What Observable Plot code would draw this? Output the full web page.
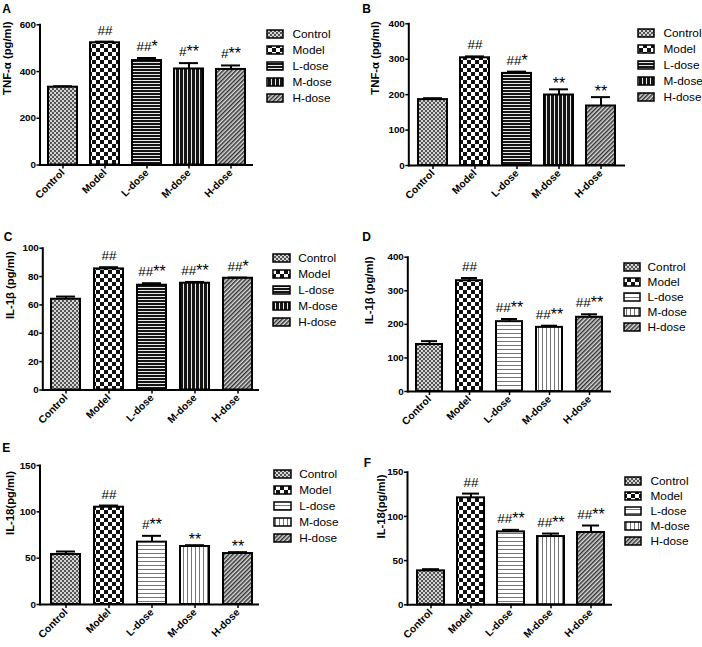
<!DOCTYPE html>
<html><head><meta charset="utf-8">
<script src="https://cdn.jsdelivr.net/npm/d3@7"></script>
<script src="https://cdn.jsdelivr.net/npm/@observablehq/plot@0.6"></script>
<style>
body{margin:0;background:#fff;}
#fig{position:relative;width:702px;height:647px;overflow:hidden;font-family:"Liberation Sans",Arial,sans-serif;background:#fff;}
#fig svg{position:absolute;}
</style></head><body>
<svg width="0" height="0" style="position:absolute">
<defs>
<pattern id="pCtrl" patternUnits="userSpaceOnUse" width="4" height="4"><rect width="4" height="4" fill="#d4d4d4"/><rect width="2" height="2" fill="#555"/><rect x="2" y="2" width="2" height="2" fill="#555"/></pattern>
<pattern id="pModel" patternUnits="userSpaceOnUse" width="8" height="8"><rect width="8" height="8" fill="#fff"/><rect width="4" height="4" fill="#111"/><rect x="4" y="4" width="4" height="4" fill="#111"/></pattern>
<pattern id="pLdark" patternUnits="userSpaceOnUse" width="4" height="3"><rect width="4" height="3" fill="#151515"/><rect y="2" width="4" height="1" fill="#e8e8e8"/></pattern>
<pattern id="pMdark" patternUnits="userSpaceOnUse" width="4" height="4"><rect width="4" height="4" fill="#151515"/><rect x="3" width="1" height="4" fill="#e8e8e8"/></pattern>
<pattern id="pLlight" patternUnits="userSpaceOnUse" width="4" height="4"><rect width="4" height="4" fill="#fff"/><rect y="3" width="4" height="1" fill="#777"/></pattern>
<pattern id="pMlight" patternUnits="userSpaceOnUse" width="4" height="4"><rect width="4" height="4" fill="#fff"/><rect x="3" width="1" height="4" fill="#777"/></pattern>
<pattern id="pH" patternUnits="userSpaceOnUse" width="3" height="3" patternTransform="rotate(45)"><rect width="3" height="3" fill="#dcdcdc"/><rect width="1.5" height="3" fill="#333"/></pattern>
</defs></svg>
<div id="fig"></div>
<script>
// ---------- data ----------
const groups = ["Control", "Model", "L-dose", "M-dose", "H-dose"];

const tnfA    = [333, 523, 447, 411, 409];
const tnfAErr = [4, 5, 11, 25, 17];
const tnfAHash = ["", "##", "##", "#", "#"];
const tnfAStar = ["", "", "*", "**", "**"];

const tnfB    = [186, 304, 260, 199, 168];
const tnfBErr = [4, 4, 5, 16, 25];
const tnfBHash = ["", "##", "##", "", ""];
const tnfBStar = ["", "", "*", "**", "**"];

const il1bC    = [64, 85.4, 73.9, 75.3, 78.8];
const il1bCErr = [1.9, 1.2, 1.4, 0.9, 0.5];
const il1bCHash = ["", "##", "##", "##", "##"];
const il1bCStar = ["", "", "**", "**", "*"];

const il1bD    = [140, 330, 208, 191, 221];
const il1bDErr = [10, 8, 8, 5, 9];
const il1bDHash = ["", "##", "##", "##", "##"];
const il1bDStar = ["", "", "**", "**", "**"];

const il18E    = [54, 105, 67.3, 62.6, 55];
const il18EErr = [3.2, 1.8, 6.8, 1.4, 1.5];
const il18EHash = ["", "##", "#", "", ""];
const il18EStar = ["", "", "**", "**", "**"];

const il18F    = [38.4, 121, 82.5, 77.2, 81.8];
const il18FErr = [1.9, 4.8, 2.3, 3.4, 7.9];
const il18FHash = ["", "##", "##", "##", "##"];
const il18FStar = ["", "", "**", "**", "**"];

const yTicksA = [0, 200, 400, 600];
const yTicksB = [0, 100, 200, 300, 400];
const yTicksC = [0, 20, 40, 60, 80, 100];
const yTicksD = [0, 100, 200, 300, 400];
const yTicksE = [0, 50, 100, 150];
const yTicksF = [0, 50, 100, 150];

const darkFills  = ["url(#pCtrl)", "url(#pModel)", "url(#pLdark)", "url(#pMdark)", "url(#pH)"];
const lightFills = ["url(#pCtrl)", "url(#pModel)", "url(#pLlight)", "url(#pMlight)", "url(#pH)"];

// ---------- layout (absolute px) ----------
const panels = [
  {letter:"A", v:tnfA, e:tnfAErr, hash:tnfAHash, star:tnfAStar, ticks:yTicksA, ymax:600, ylabel:"TNF-α (pg/ml)", fills:darkFills,
   ox:0, oy:0, H:210, axisX:39.5, axisEnd:253, yTop:24.3, y0:164.5, b0:46.7, b1:246, bw:29.2, ylabelX:7, lx:1.7, ly:4,
   sw0:267, sw1:283, labX:292, r0:33, r4:98},
  {letter:"B", v:tnfB, e:tnfBErr, hash:tnfBHash, star:tnfBStar, ticks:yTicksB, ymax:400, ylabel:"TNF-α (pg/ml)", fills:darkFills,
   ox:351, oy:0, H:210, axisX:408.3, axisEnd:625, yTop:23.3, y0:165, b0:416.3, b1:617, bw:29.5, ylabelX:375, lx:361.7, ly:4,
   sw0:638, sw1:654, labX:663, r0:32.3, r4:98.3},
  {letter:"C", v:il1bC, e:il1bCErr, hash:il1bCHash, star:il1bCStar, ticks:yTicksC, ymax:100, ylabel:"IL-1β (pg/ml)", fills:darkFills,
   ox:0, oy:210, H:220, axisX:42.3, axisEnd:259, yTop:247.7, y0:389.5, b0:50.7, b1:251.7, bw:29, ylabelX:10, lx:3.3, ly:231.7,
   sw0:273, sw1:290, labX:297.7, r0:256.7, r4:322.3},
  {letter:"D", v:il1bD, e:il1bDErr, hash:il1bDHash, star:il1bDStar, ticks:yTicksD, ymax:400, ylabel:"IL-1β (pg/ml)", fills:lightFills,
   ox:351, oy:210, H:220, axisX:407.3, axisEnd:611, yTop:256.7, y0:391, b0:415, b1:603.7, bw:26.5, ylabelX:368.7, lx:361.7, ly:232.3,
   sw0:623.3, sw1:640, labX:646.7, r0:265, r4:328.3},
  {letter:"E", v:il18E, e:il18EErr, hash:il18EHash, star:il18EStar, ticks:yTicksE, ymax:150, ylabel:"IL-18(pg/ml)", fills:lightFills,
   ox:0, oy:430, H:217, axisX:39.5, axisEnd:259, yTop:465, y0:604, b0:50.7, b1:252.3, bw:29.3, ylabelX:10, lx:1.7, ly:443.3,
   sw0:274, sw1:291.7, labX:299, r0:473.3, r4:538.3},
  {letter:"F", v:il18F, e:il18FErr, hash:il18FHash, star:il18FStar, ticks:yTicksF, ymax:150, ylabel:"IL-18(pg/ml)", fills:lightFills,
   ox:351, oy:430, H:217, axisX:407, axisEnd:612, yTop:471.7, y0:604.3, b0:415.7, b1:605.7, bw:27.7, ylabelX:380.5, lx:363.3, ly:457.7,
   sw0:625, sw1:641, labX:650, r0:480, r4:541}
];

const FONT = '"Liberation Sans", Arial, sans-serif';
const ctx = document.createElement("canvas").getContext("2d");
function tw(s, size) { ctx.font = `${size}px ${FONT}`; return ctx.measureText(s).width; }

const fig = document.getElementById("fig");
const W = 351;

for (const p of panels) {
  const data = groups.map((g, i) => ({g, v: p.v[i], e: p.e[i], top: p.v[i] + p.e[i], hash: p.hash[i], star: p.star[i]}));
  const step = (p.b1 - p.b0 - p.bw) / 4;
  const pi = 1 - p.bw / step;
  const mL = p.axisX - p.ox, mR = W - (p.axisEnd - p.ox), mT = p.yTop - p.oy, mB = p.H - (p.y0 - p.oy);

  const annot = [];
  for (const d of data) {
    if (!d.hash && !d.star) continue;
    const wh = d.hash ? tw(d.hash, 13.5) : 0;
    const ws = d.star ? tw(d.star, 16) : 0;
    const total = wh + ws;
    const base = d.hash ? -7 : -1;
    if (d.hash) annot.push(Plot.text([d], {x: "g", y: "top", text: "hash", textAnchor: "start", lineAnchor: "bottom", dx: -total / 2, dy: base, fontSize: 13.5, fill: "black"}));
    if (d.star) annot.push(Plot.text([d], {x: "g", y: "top", text: "star", textAnchor: "start", lineAnchor: "bottom", dx: -total / 2 + wh, dy: base + 1, fontSize: 16, fill: "black"}));
  }

  const main = Plot.plot({
    width: W, height: p.H,
    marginLeft: mL, marginRight: mR, marginTop: mT, marginBottom: mB,
    style: {fontFamily: FONT, background: "transparent", color: "black", overflow: "visible"},
    x: {domain: groups, range: [p.b0 - p.ox, p.b1 - p.ox], paddingInner: pi, paddingOuter: 0, label: null},
    y: {domain: [0, p.ymax], label: null},
    color: {domain: groups, range: p.fills},
    marks: [
      Plot.barY(data, {x: "g", y: "v", fill: "g", stroke: "black", strokeWidth: 2}),
      Plot.ruleX(data, {x: "g", y1: "v", y2: "top", stroke: "black", strokeWidth: 2}),
      Plot.tickY(data, {x: "g", y: "top", stroke: "black", strokeWidth: 2, insetLeft: 5, insetRight: 5}),
      Plot.ruleY([0], {stroke: "black", strokeWidth: 2}),
      Plot.frame({anchor: "left", stroke: "black", strokeWidth: 2}),
      Plot.axisY({ticks: p.ticks, tickSize: 3, tickPadding: 1, tickFormat: d => String(d), fontSize: 9.8, fontWeight: "bold", strokeWidth: 1.5, label: null}),
      Plot.axisX({tickSize: 4, tickPadding: 2, tickRotate: -45, fontSize: 10.3, fontWeight: "bold", strokeWidth: 1.5, label: null}),
      Plot.text([p.ylabel], {text: d => d, frameAnchor: "left", rotate: -90, dx: p.ylabelX - p.axisX, fontSize: 11.3, fontWeight: "bold", fill: "black"}),
      Plot.text([p.letter], {text: d => d, frameAnchor: "top-left", textAnchor: "start", lineAnchor: "top", dx: p.lx - p.axisX, dy: p.ly - p.yTop, fontSize: 12, fontWeight: "bold", fill: "black"}),
      ...annot
    ]
  });
  main.style.left = p.ox + "px";
  main.style.top = p.oy + "px";
  fig.appendChild(main);

  const rstep = (p.r4 - p.r0) / 4;
  const leg = Plot.plot({
    width: W, height: p.H, margin: 0,
    style: {fontFamily: FONT, background: "transparent", color: "black", overflow: "visible"},
    x: {type: "band", domain: ["s"], range: [p.sw0 - p.ox, p.sw1 - p.ox], padding: 0, axis: null},
    y: {type: "band", domain: groups, range: [p.r0 - rstep / 2 - p.oy, p.r4 + rstep / 2 - p.oy], paddingInner: 0.5, paddingOuter: 0.25, axis: null},
    color: {domain: groups, range: p.fills},
    marks: [
      Plot.cell(groups, {x: () => "s", y: d => d, fill: d => d, stroke: "black", strokeWidth: 1.5, inset: 0}),
      Plot.text(groups, {x: () => "s", y: d => d, text: d => d, textAnchor: "start", dx: p.labX - (p.sw0 + p.sw1) / 2, fontSize: 11.8, fill: "black"})
    ]
  });
  leg.style.left = p.ox + "px";
  leg.style.top = p.oy + "px";
  fig.appendChild(leg);
}
</script>
</body></html>
